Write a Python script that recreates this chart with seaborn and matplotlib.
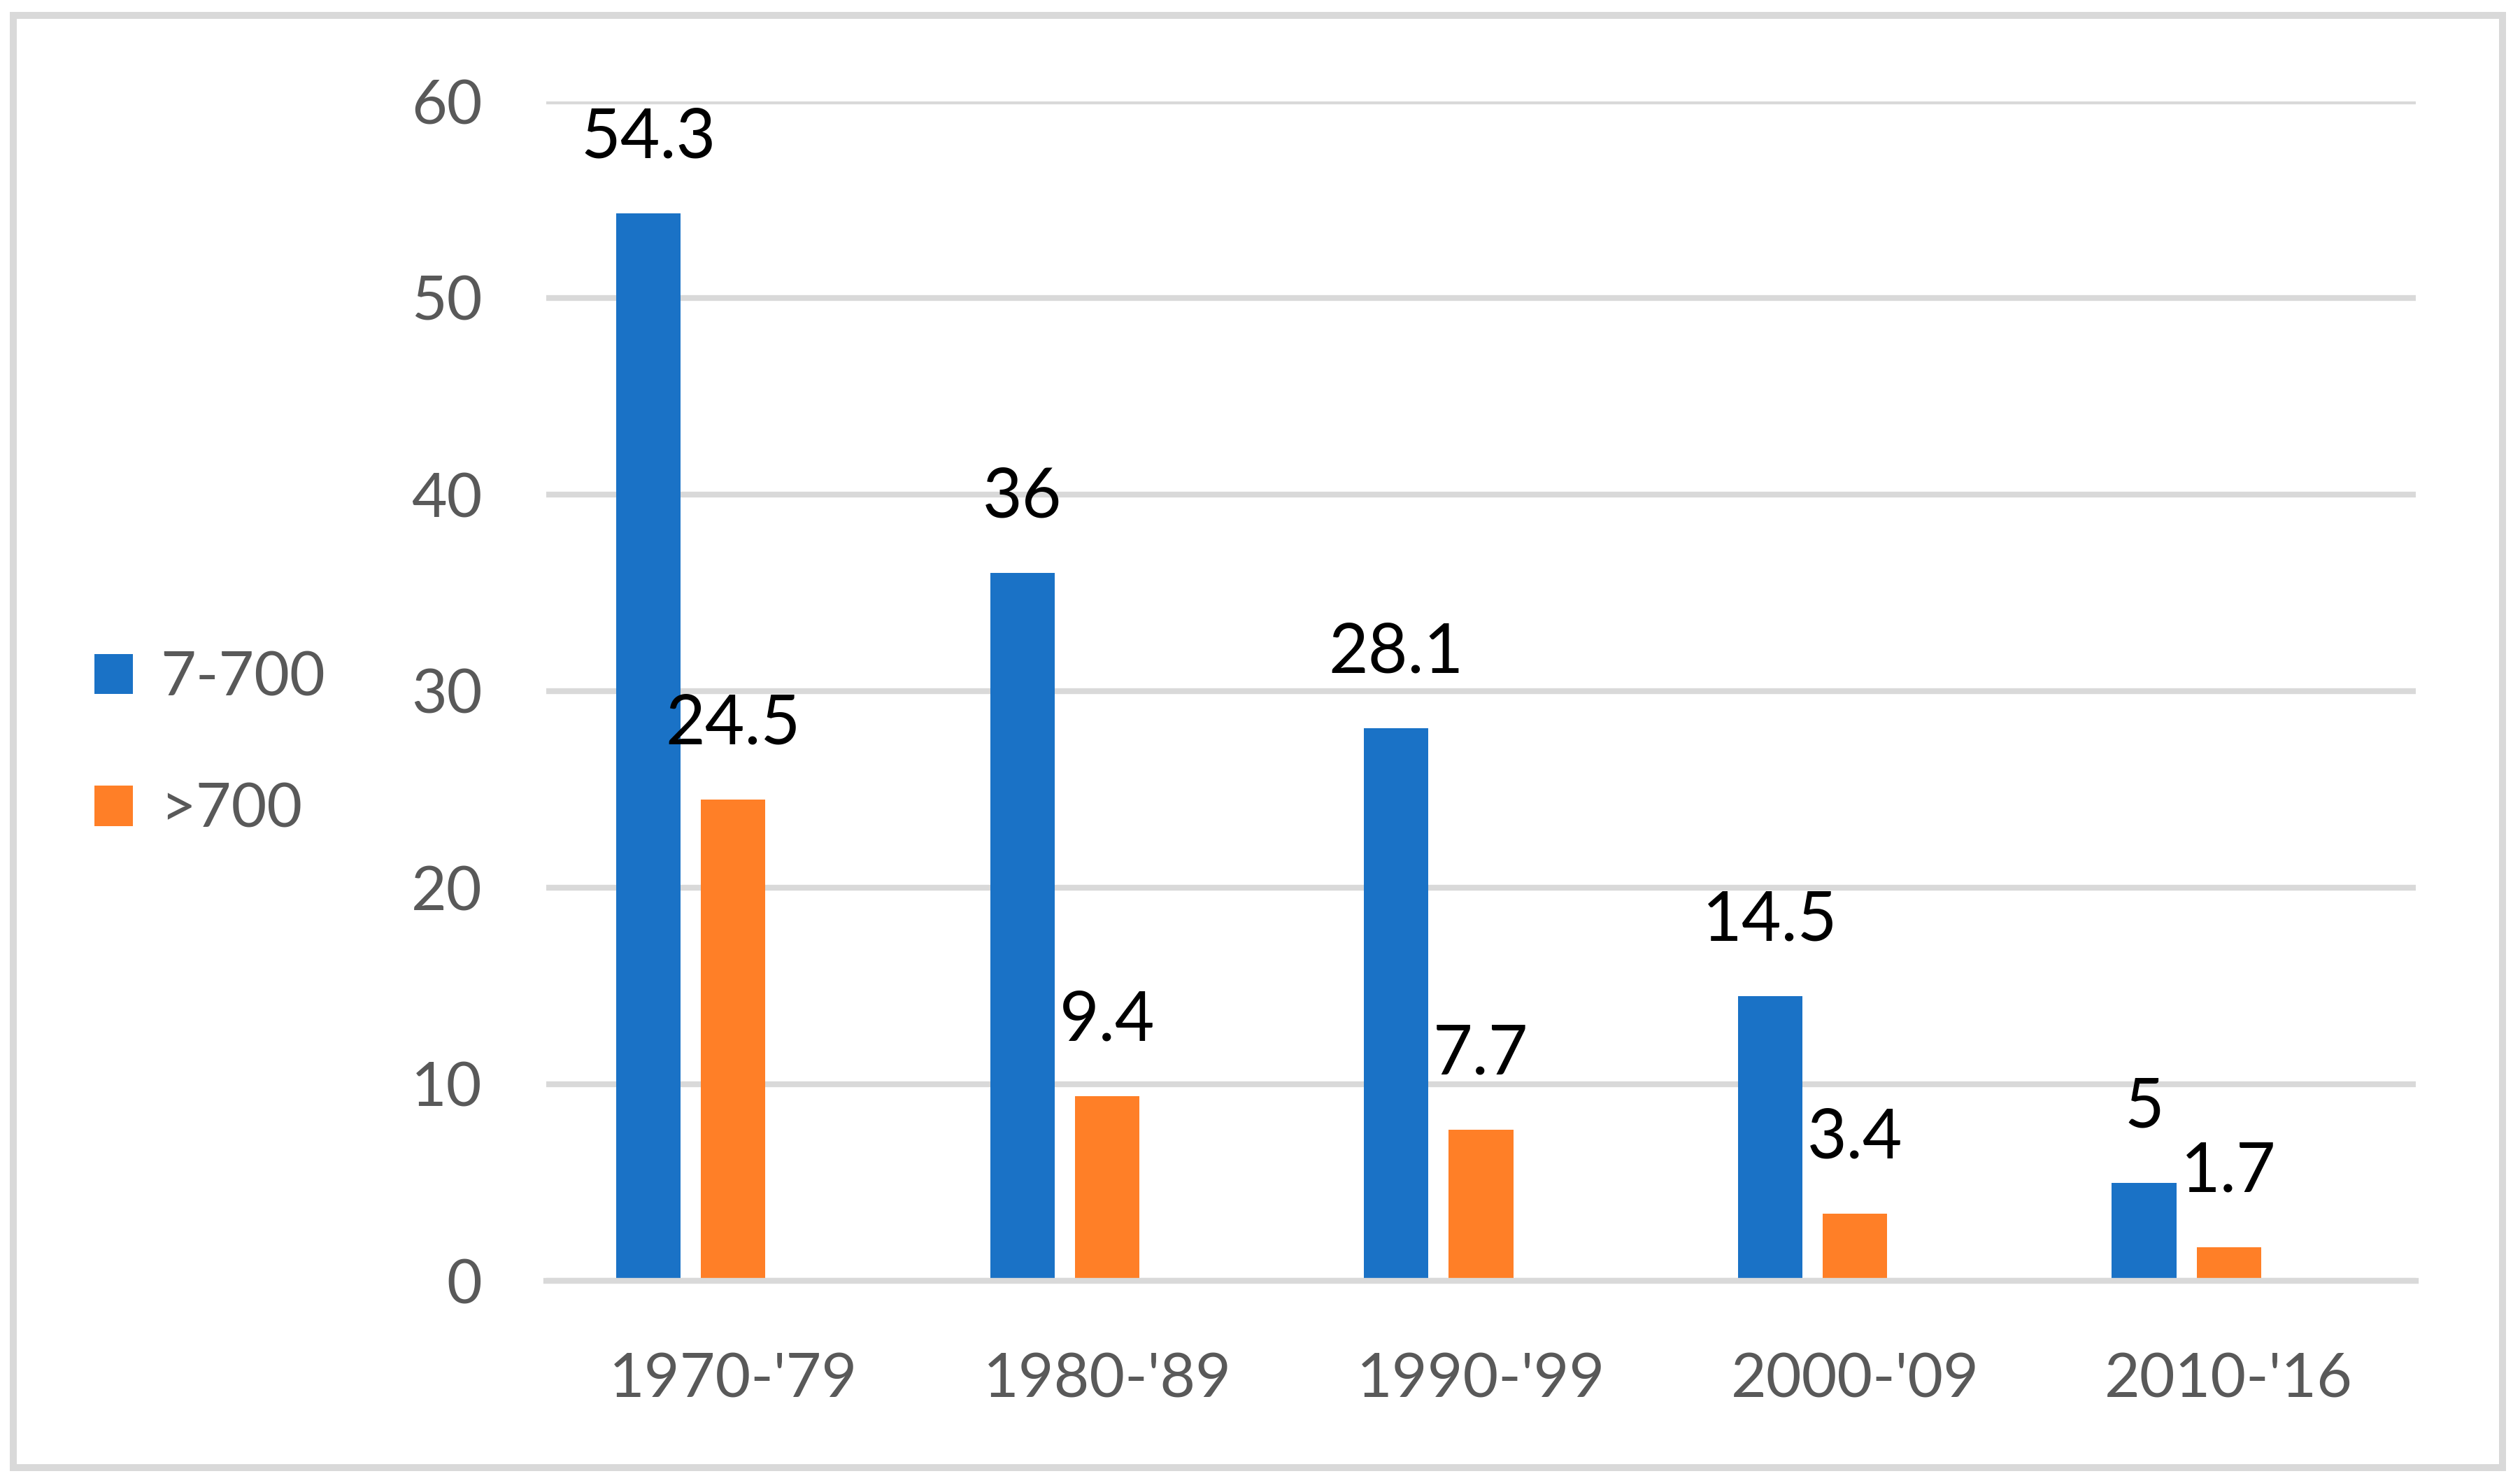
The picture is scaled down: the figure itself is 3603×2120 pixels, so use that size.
import numpy as np
import pandas as pd
import matplotlib
matplotlib.use("Agg")
import matplotlib.pyplot as plt
from matplotlib.patches import Patch, Rectangle
import seaborn as sns

# ---- data ----
periods = ["1970-'79", "1980-'89", "1990-'99", "2000-'09", "2010-'16"]
small_vals = [54.3, 36, 28.1, 14.5, 5]      # 7-700
large_vals = [24.5, 9.4, 7.7, 3.4, 1.7]     # >700
series_names = ["7-700", ">700"]
y_ticks = [0, 10, 20, 30, 40, 50, 60]

BLUE = "#1A72C6"
ORANGE = "#FF7F27"
GRID = "#D9D9D9"
TXT = "#595959"

df = pd.DataFrame({
    "period": periods * 2,
    "value": small_vals + large_vals,
    "size": [series_names[0]] * len(periods) + [series_names[1]] * len(periods),
})

sns.set_style("white")
plt.rcParams["font.family"] = ["Lato", "DejaVu Sans"]

fig = plt.figure(figsize=(3603 / 300, 2120 / 300), dpi=300)
ax = fig.add_axes([781 / 3603, 1 - 1831 / 2120, (3454 - 781) / 3603, (1831 - 145) / 2120])

hue_order = series_names + ["_pad"]
palette = {series_names[0]: BLUE, series_names[1]: ORANGE, "_pad": "white"}
sns.barplot(data=df, x="period", y="value", hue="size", hue_order=hue_order,
            order=periods, palette=palette, width=0.68, gap=0.24,
            saturation=1, linewidth=0, legend=False, ax=ax, errorbar=None)

for cont in ax.containers:
    ax.bar_label(cont, fmt="{:g}", padding=15, fontsize=23.5, color="black")

ax.set_ylim(0, 60)
ax.set_xlim(-0.5, len(periods) - 0.5)
ax.set_yticks(y_ticks)
ax.set_yticklabels([str(t) for t in y_ticks])
ax.yaxis.grid(True, color=GRID, linewidth=2.0, linestyle="-")
ax.set_axisbelow(True)
ax.tick_params(axis="y", length=0, pad=22, labelsize=21, labelcolor=TXT)

ax.set_xticks(np.arange(-0.5, len(periods), 1.0))
ax.set_xticklabels([""] * (len(periods) + 1))
ax.set_xticks(np.arange(len(periods)), minor=True)
ax.set_xticklabels(periods, minor=True)
ax.tick_params(axis="x", which="major", length=7.7, width=2.0, color=GRID, direction="out")
ax.tick_params(axis="x", which="minor", length=0, pad=24.5, labelsize=21, labelcolor=TXT)

ax.set_xlabel("")
ax.set_ylabel("")
for side in ["top", "left", "right"]:
    ax.spines[side].set_visible(False)
ax.spines["bottom"].set_color(GRID)
ax.spines["bottom"].set_linewidth(2.0)

handles = [Patch(facecolor=BLUE, edgecolor="none"), Patch(facecolor=ORANGE, edgecolor="none")]
fig.legend(handles, series_names, loc="center left",
           bbox_to_anchor=(135 / 3603, 1 - 1064 / 2120), frameon=False,
           fontsize=21, labelcolor=TXT, handlelength=0.63, handleheight=0.63,
           handletextpad=0.45, labelspacing=1.25, borderpad=0, borderaxespad=0)

border = Rectangle((19 / 3603, 22 / 2120), (3578 - 19) / 3603, (2098 - 22) / 2120,
                   transform=fig.transFigure, fill=False, edgecolor=GRID, linewidth=2.4)
fig.patches.append(border)

fig.savefig("out.png", dpi=300, facecolor="white")
